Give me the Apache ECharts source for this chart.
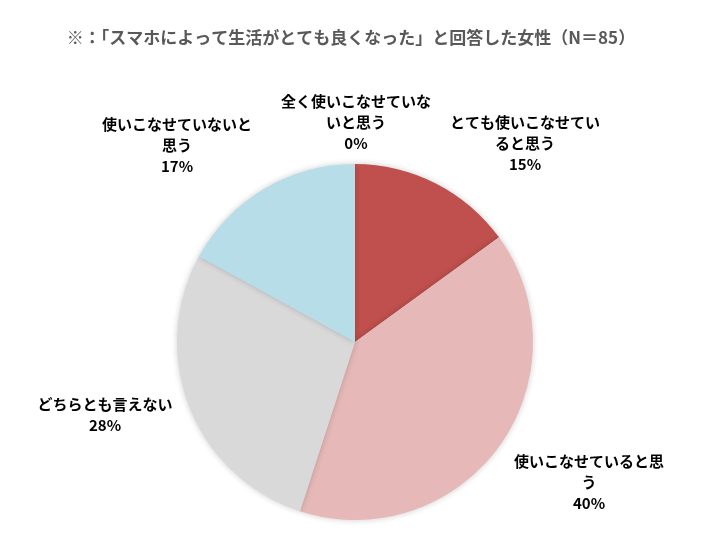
<!DOCTYPE html>
<html>
<head>
<meta charset="utf-8">
<script src="https://cdn.jsdelivr.net/npm/echarts@6/dist/echarts.min.js"></script>
<style>
  html, body { margin: 0; padding: 0; background: #fff; }
  #chart { width: 702px; height: 559px; }
</style>
</head>
<body>
<div id="chart"></div>
<script>
// answers, clockwise from 12 o'clock
const categories = [
  'とても使いこなせていると思う',
  '使いこなせていると思う',
  'どちらとも言えない',
  '使いこなせていないと思う',
  '全く使いこなせていないと思う'
];
const percents = [15, 40, 28, 17, 0];
const colors = ['#C0504D', '#E6B9B8', '#D9D9D9', '#B7DDE8', '#8EB4E3'];

// label anchor (center x, top y) for each slice, like the original layout
const labelPos = [
  [525, 112],
  [589, 451],
  [105, 394],
  [177, 114],
  [356, 91]
];

function wrap(name, n) {
  let out = [];
  for (let i = 0; i < name.length; i += n) {
    out.push(name.slice(i, i + n));
  }
  return out.join('\n');
}

let myChart = echarts.init(document.getElementById('chart'));

myChart.setOption({
  backgroundColor: '#fff',
  animation: false,
  title: {
    text: '※：「スマホによって生活がとても良くなった」と回答した女性（N＝85）',
    left: 'center',
    top: 24,
    textStyle: {
      color: '#595959',
      fontSize: 17,
      fontWeight: 'bold',
      fontFamily: 'Noto Sans CJK JP'
    }
  },
  series: [
    {
      type: 'pie',
      center: [355, 342],
      radius: 178,
      startAngle: 90,
      clockwise: true,
      minAngle: 0,
      avoidLabelOverlap: false,
      data: categories.map(function (c, i) {
        return { name: c, value: percents[i], itemStyle: { color: colors[i] } };
      }),
      itemStyle: {
        shadowBlur: 6,
        shadowColor: 'rgba(0,0,0,0.2)'
      },
      label: {
        show: true,
        position: 'outside',
        formatter: function (p) {
          return wrap(p.name, 10) + '\n' + p.value + '%';
        },
        color: '#000',
        fontSize: 15,
        fontWeight: 'bold',
        fontFamily: 'Noto Sans CJK JP',
        lineHeight: 21,
        align: 'center'
      },
      labelLine: { show: false },
      labelLayout: function (params) {
        let pos = labelPos[params.dataIndex];
        return {
          x: pos[0],
          y: pos[1],
          align: 'center',
          verticalAlign: 'top'
        };
      },
      emphasis: { disabled: true }
    }
  ]
});
</script>
</body>
</html>
